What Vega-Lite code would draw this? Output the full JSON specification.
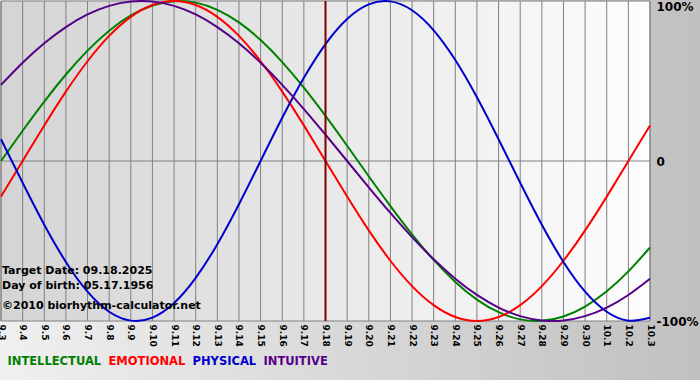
{
  "$schema": "https://vega.github.io/schema/vega-lite/v6.json",
  "autosize": {"type": "none"},
  "padding": {"left": 1, "top": 1, "right": 50, "bottom": 59},
  "width": 649,
  "height": 320,
  "background": "#d8d8d8",
  "config": {
    "view": {"stroke": null},
    "font": "DejaVu Sans",
    "axis": {"labelOverlap": false}
  },
  "datasets": {
    "one": [{}],
    "curves": [
    {"d":0,"s":"INTELLECTUAL","v":0},{"d":1,"s":"INTELLECTUAL","v":0.1893},{"d":2,"s":"INTELLECTUAL","v":0.3717},{"d":3,"s":"INTELLECTUAL","v":0.5406},{"d":4,"s":"INTELLECTUAL","v":0.6901},{"d":5,"s":"INTELLECTUAL","v":0.8146},{"d":6,"s":"INTELLECTUAL","v":0.9096},{"d":7,"s":"INTELLECTUAL","v":0.9718},{"d":8,"s":"INTELLECTUAL","v":0.9989},{"d":9,"s":"INTELLECTUAL","v":0.9898},{"d":10,"s":"INTELLECTUAL","v":0.945},{"d":11,"s":"INTELLECTUAL","v":0.866},{"d":12,"s":"INTELLECTUAL","v":0.7557},{"d":13,"s":"INTELLECTUAL","v":0.6182},{"d":14,"s":"INTELLECTUAL","v":0.4582},{"d":15,"s":"INTELLECTUAL","v":0.2817},{"d":16,"s":"INTELLECTUAL","v":0.0951},{"d":17,"s":"INTELLECTUAL","v":-0.0951},{"d":18,"s":"INTELLECTUAL","v":-0.2817},{"d":19,"s":"INTELLECTUAL","v":-0.4582},{"d":20,"s":"INTELLECTUAL","v":-0.6182},{"d":21,"s":"INTELLECTUAL","v":-0.7557},{"d":22,"s":"INTELLECTUAL","v":-0.866},{"d":23,"s":"INTELLECTUAL","v":-0.945},{"d":24,"s":"INTELLECTUAL","v":-0.9898},{"d":25,"s":"INTELLECTUAL","v":-0.9989},{"d":26,"s":"INTELLECTUAL","v":-0.9718},{"d":27,"s":"INTELLECTUAL","v":-0.9096},{"d":28,"s":"INTELLECTUAL","v":-0.8146},{"d":29,"s":"INTELLECTUAL","v":-0.6901},{"d":30,"s":"INTELLECTUAL","v":-0.5406},
    {"d":0,"s":"EMOTIONAL","v":-0.2225},{"d":1,"s":"EMOTIONAL","v":0},{"d":2,"s":"EMOTIONAL","v":0.2225},{"d":3,"s":"EMOTIONAL","v":0.4339},{"d":4,"s":"EMOTIONAL","v":0.6235},{"d":5,"s":"EMOTIONAL","v":0.7818},{"d":6,"s":"EMOTIONAL","v":0.901},{"d":7,"s":"EMOTIONAL","v":0.9749},{"d":8,"s":"EMOTIONAL","v":1},{"d":9,"s":"EMOTIONAL","v":0.9749},{"d":10,"s":"EMOTIONAL","v":0.901},{"d":11,"s":"EMOTIONAL","v":0.7818},{"d":12,"s":"EMOTIONAL","v":0.6235},{"d":13,"s":"EMOTIONAL","v":0.4339},{"d":14,"s":"EMOTIONAL","v":0.2225},{"d":15,"s":"EMOTIONAL","v":0},{"d":16,"s":"EMOTIONAL","v":-0.2225},{"d":17,"s":"EMOTIONAL","v":-0.4339},{"d":18,"s":"EMOTIONAL","v":-0.6235},{"d":19,"s":"EMOTIONAL","v":-0.7818},{"d":20,"s":"EMOTIONAL","v":-0.901},{"d":21,"s":"EMOTIONAL","v":-0.9749},{"d":22,"s":"EMOTIONAL","v":-1},{"d":23,"s":"EMOTIONAL","v":-0.9749},{"d":24,"s":"EMOTIONAL","v":-0.901},{"d":25,"s":"EMOTIONAL","v":-0.7818},{"d":26,"s":"EMOTIONAL","v":-0.6235},{"d":27,"s":"EMOTIONAL","v":-0.4339},{"d":28,"s":"EMOTIONAL","v":-0.2225},{"d":29,"s":"EMOTIONAL","v":0},{"d":30,"s":"EMOTIONAL","v":0.2225},
    {"d":0,"s":"PHYSICAL","v":0.1362},{"d":1,"s":"PHYSICAL","v":-0.1362},{"d":2,"s":"PHYSICAL","v":-0.3984},{"d":3,"s":"PHYSICAL","v":-0.6311},{"d":4,"s":"PHYSICAL","v":-0.817},{"d":5,"s":"PHYSICAL","v":-0.9423},{"d":6,"s":"PHYSICAL","v":-0.9977},{"d":7,"s":"PHYSICAL","v":-0.9791},{"d":8,"s":"PHYSICAL","v":-0.8879},{"d":9,"s":"PHYSICAL","v":-0.7308},{"d":10,"s":"PHYSICAL","v":-0.5196},{"d":11,"s":"PHYSICAL","v":-0.2698},{"d":12,"s":"PHYSICAL","v":0},{"d":13,"s":"PHYSICAL","v":0.2698},{"d":14,"s":"PHYSICAL","v":0.5196},{"d":15,"s":"PHYSICAL","v":0.7308},{"d":16,"s":"PHYSICAL","v":0.8879},{"d":17,"s":"PHYSICAL","v":0.9791},{"d":18,"s":"PHYSICAL","v":0.9977},{"d":19,"s":"PHYSICAL","v":0.9423},{"d":20,"s":"PHYSICAL","v":0.817},{"d":21,"s":"PHYSICAL","v":0.6311},{"d":22,"s":"PHYSICAL","v":0.3984},{"d":23,"s":"PHYSICAL","v":0.1362},{"d":24,"s":"PHYSICAL","v":-0.1362},{"d":25,"s":"PHYSICAL","v":-0.3984},{"d":26,"s":"PHYSICAL","v":-0.6311},{"d":27,"s":"PHYSICAL","v":-0.817},{"d":28,"s":"PHYSICAL","v":-0.9423},{"d":29,"s":"PHYSICAL","v":-0.9977},{"d":30,"s":"PHYSICAL","v":-0.9791},
    {"d":0,"s":"INTUITIVE","v":0.4759},{"d":1,"s":"INTUITIVE","v":0.6142},{"d":2,"s":"INTUITIVE","v":0.7357},{"d":3,"s":"INTUITIVE","v":0.8372},{"d":4,"s":"INTUITIVE","v":0.9158},{"d":5,"s":"INTUITIVE","v":0.9694},{"d":6,"s":"INTUITIVE","v":0.9966},{"d":7,"s":"INTUITIVE","v":0.9966},{"d":8,"s":"INTUITIVE","v":0.9694},{"d":9,"s":"INTUITIVE","v":0.9158},{"d":10,"s":"INTUITIVE","v":0.8372},{"d":11,"s":"INTUITIVE","v":0.7357},{"d":12,"s":"INTUITIVE","v":0.6142},{"d":13,"s":"INTUITIVE","v":0.4759},{"d":14,"s":"INTUITIVE","v":0.3247},{"d":15,"s":"INTUITIVE","v":0.1646},{"d":16,"s":"INTUITIVE","v":0},{"d":17,"s":"INTUITIVE","v":-0.1646},{"d":18,"s":"INTUITIVE","v":-0.3247},{"d":19,"s":"INTUITIVE","v":-0.4759},{"d":20,"s":"INTUITIVE","v":-0.6142},{"d":21,"s":"INTUITIVE","v":-0.7357},{"d":22,"s":"INTUITIVE","v":-0.8372},{"d":23,"s":"INTUITIVE","v":-0.9158},{"d":24,"s":"INTUITIVE","v":-0.9694},{"d":25,"s":"INTUITIVE","v":-0.9966},{"d":26,"s":"INTUITIVE","v":-0.9966},{"d":27,"s":"INTUITIVE","v":-0.9694},{"d":28,"s":"INTUITIVE","v":-0.9158},{"d":29,"s":"INTUITIVE","v":-0.8372},{"d":30,"s":"INTUITIVE","v":-0.7357}
  ]},
  "data": {"name": "curves"},
  "layer": [
    {
      "data": {"name": "one"},
      "mark": {"type": "rect", "color": {"gradient": "linear", "x1": 0, "x2": 1, "y1": 0, "y2": 0, "stops": [{"offset": 0, "color": "#f0f0f0"}, {"offset": 1, "color": "#c0c0c0"}]}},
      "encoding": {
        "x": {"datum": -0.1, "type": "quantitative", "scale": {"domain": [0, 30], "nice": false, "zero": false}, "axis": {"zindex": 1, "values": [0,1,2,3,4,5,6,7,8,9,10,11,12,13,14,15,16,17,18,19,20,21,22,23,24,25,26,27,28,29,30], "tickCount": 31, "labelExpr": "datum.value < 28 ? '9.' + (datum.value + 3) : '10.' + (datum.value - 27)", "labelAngle": 90, "labelFont": "DejaVu Sans", "labelFontWeight": "bold", "labelFontSize": 9, "labelColor": "#000000", "labelPadding": 3, "grid": false, "ticks": false, "domain": false, "title": null, "labelOverlap": false, "labelBound": false, "labelFlush": false}},
        "x2": {"datum": 32.4},
        "y": {"datum": 1.02, "type": "quantitative", "scale": {"domain": [-1, 1], "nice": false, "zero": false}, "axis": {"zindex": 1, "orient": "right", "values": [-1, 0, 1], "labelExpr": "datum.value == 0 ? '0' : (datum.value * 100) + '%'", "labelFont": "DejaVu Sans", "labelFontWeight": "bold", "labelFontSize": 12, "labelColor": "#000000", "labelPadding": 6, "labelBaseline": {"condition": {"test": "datum.value == 1", "value": "top"}, "value": "middle"}, "grid": false, "ticks": false, "domain": false, "title": null, "labelOverlap": false, "labelFlush": false, "labelBound": false}},
        "y2": {"datum": -1.4}
      }
    },
    {
      "data": {"name": "one"},
      "mark": {"type": "rect", "color": {"gradient": "linear", "x1": 0, "x2": 1, "y1": 0, "y2": 0, "stops": [{"offset": 0, "color": "#d4d4d4"}, {"offset": 1, "color": "#fdfdfd"}]}},
      "encoding": {"x": {"datum": 0}, "x2": {"datum": 30}, "y": {"datum": 1}, "y2": {"datum": -1}}
    },
    {
      "transform": [{"filter": "datum.s == 'PHYSICAL'"}],
      "mark": {"type": "rule", "color": "#808080", "strokeWidth": 1},
      "encoding": {"x": {"field": "d", "type": "quantitative"}, "y": {"datum": -1}, "y2": {"datum": 1}}
    },
    {
      "data": {"name": "one"},
      "mark": {"type": "rule", "color": "#808080", "strokeWidth": 1},
      "encoding": {"y": {"datum": 0}, "x": {"datum": 0}, "x2": {"datum": 30}}
    },
    {
      "data": {"name": "one"},
      "mark": {"type": "rect", "fill": null, "stroke": "#808080", "strokeWidth": 1},
      "encoding": {"x": {"datum": 0}, "x2": {"datum": 30}, "y": {"datum": 1}, "y2": {"datum": -1}}
    },
    {
      "mark": {"type": "line", "interpolate": "natural", "strokeWidth": 2},
      "encoding": {
        "x": {"field": "d", "type": "quantitative"},
        "y": {"field": "v", "type": "quantitative"},
        "color": {"field": "s", "type": "nominal",
          "scale": {"domain": ["INTELLECTUAL", "EMOTIONAL", "PHYSICAL", "INTUITIVE"], "range": ["#008000", "#ff0000", "#0000cc", "#550088"]},
          "legend": {"zindex": 1, "orient": "none", "legendX": 7, "legendY": 355, "direction": "horizontal", "title": null, "symbolSize": 0.01, "symbolOpacity": 0, "symbolStrokeWidth": 0.01, "labelOffset": -12, "columnPadding": 6, "labelFont": "DejaVu Sans", "labelFontWeight": "bold", "labelFontSize": 11.5, "labelColor": {"expr": "scale('color', datum.value)"}, "labelLimit": 200}}
      }
    },
    {
      "data": {"name": "one"},
      "mark": {"type": "rule", "color": "#800000", "strokeWidth": 2},
      "encoding": {"x": {"datum": 15}, "y": {"datum": 1}, "y2": {"datum": -1}}
    },
    {
      "data": {"name": "one"},
      "mark": {"type": "text", "text": "Target Date: 09.18.2025", "align": "left", "baseline": "middle", "dx": 1, "font": "DejaVu Sans", "fontWeight": "bold", "fontSize": 11, "color": "#000000"},
      "encoding": {"x": {"datum": 0}, "y": {"datum": -0.6875}}
    },
    {
      "data": {"name": "one"},
      "mark": {"type": "text", "text": "Day of birth: 05.17.1956", "align": "left", "baseline": "middle", "dx": 1, "font": "DejaVu Sans", "fontWeight": "bold", "fontSize": 11, "color": "#000000"},
      "encoding": {"x": {"datum": 0}, "y": {"datum": -0.784}}
    },
    {
      "data": {"name": "one"},
      "mark": {"type": "text", "text": "©2010 biorhythm-calculator.net", "align": "left", "baseline": "middle", "dx": 1, "font": "DejaVu Sans", "fontWeight": "bold", "fontSize": 11, "color": "#000000"},
      "encoding": {"x": {"datum": 0}, "y": {"datum": -0.909}}
    }
  ]
}
